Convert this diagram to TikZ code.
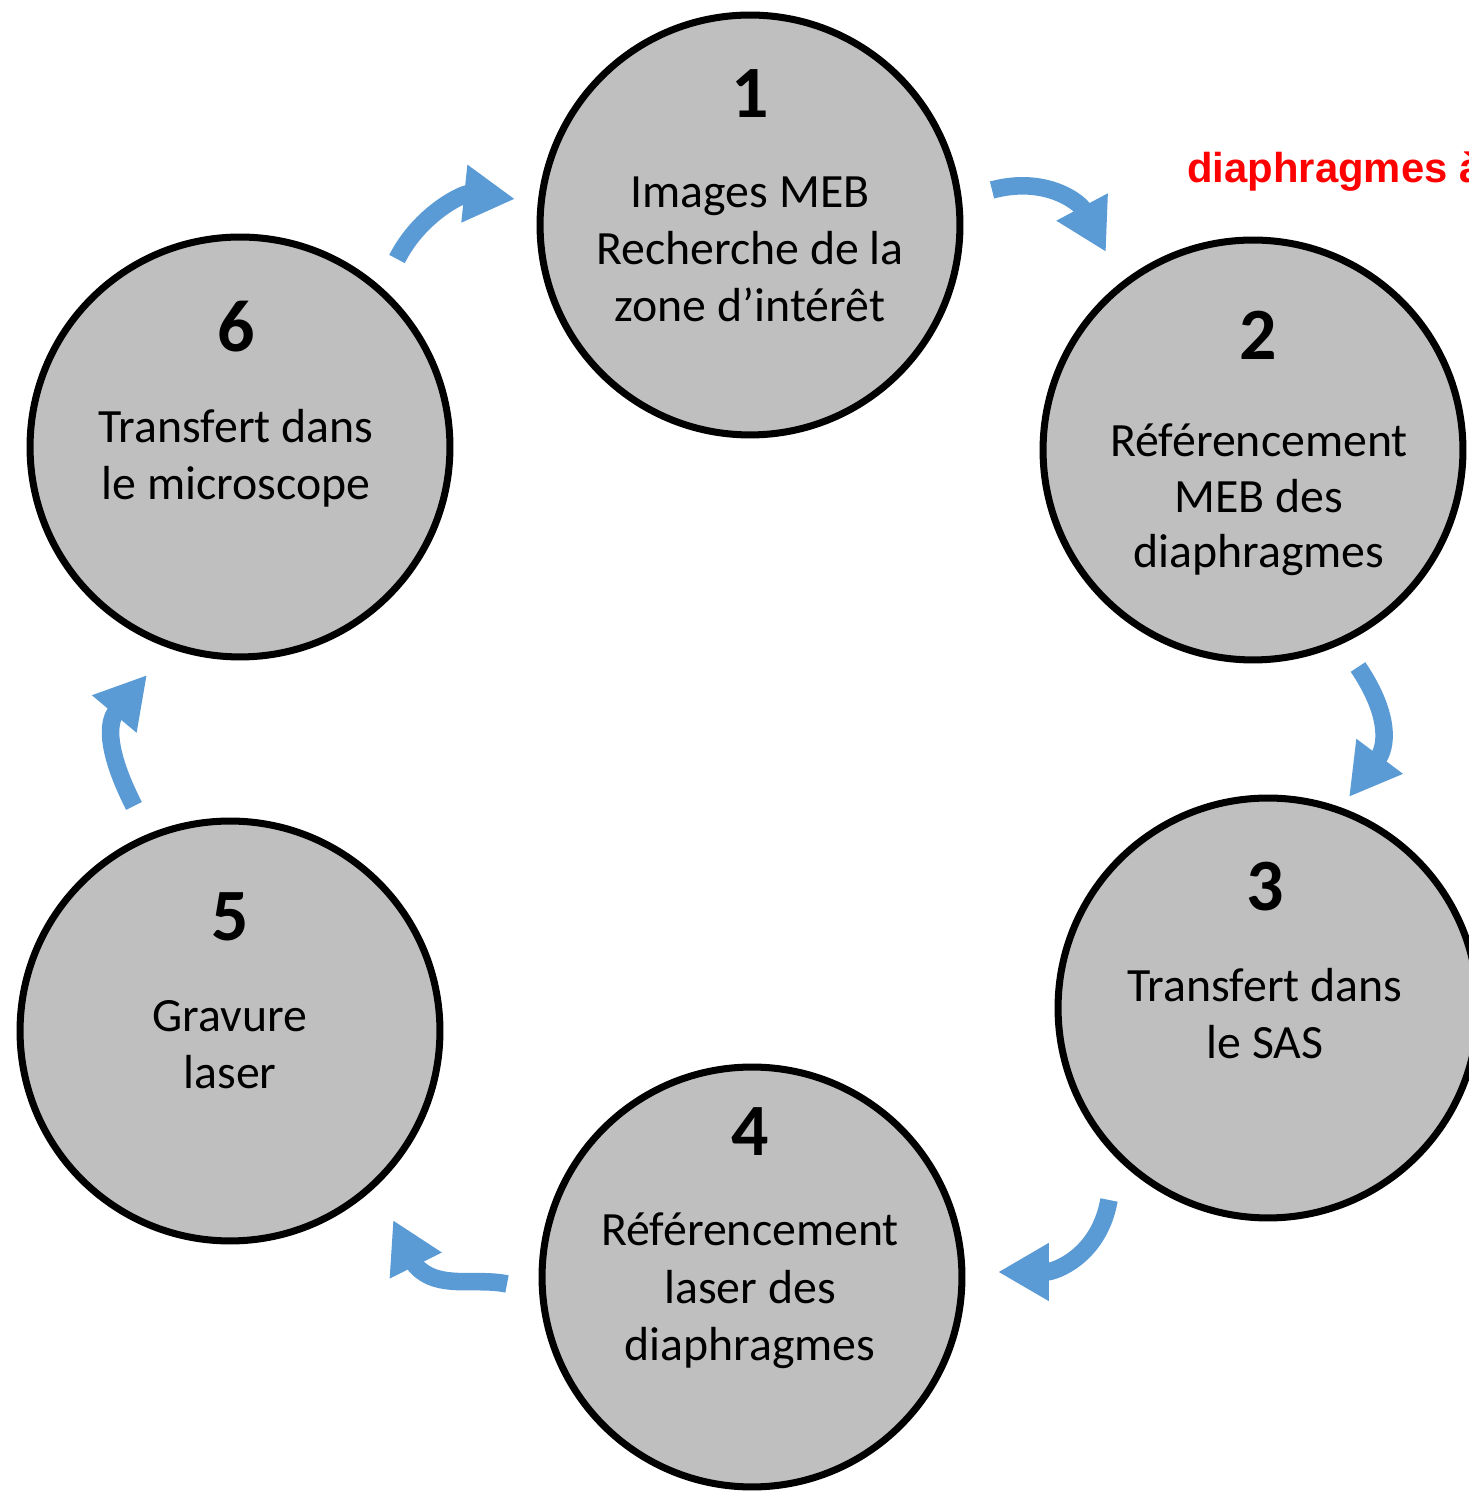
\documentclass[tikz,border=0pt]{standalone}
\usepackage{fontspec}
\setmainfont{Carlito}
\newfontfamily\arialfont{Liberation Sans}
\usetikzlibrary{arrows.meta}
\definecolor{stagegray}{HTML}{BFBFBF}
\definecolor{flowblue}{HTML}{5B9BD5}
\definecolor{notered}{HTML}{FF0000}
\begin{document}
\begin{tikzpicture}[x=0.02cm,y=0.02cm,
  stage/.style={circle, draw=black, line width=4pt, fill=stagegray, minimum size=8.4cm, inner sep=0pt},
  stagenum/.style={anchor=base, inner sep=0pt, font=\fontsize{42}{50}\selectfont\bfseries},
  stagetxt/.style={anchor=base, inner sep=0pt, font=\fontsize{27.2}{32}\selectfont},
  flow/.style={draw=flowblue, line width=10pt, line cap=butt, -{Triangle[length=29pt,width=31pt]}}
]
\useasboundingbox (0,0) rectangle (1469,1491);

% circles
\node[stage] (c1) at (750,1266) {};
\node[stage] (c2) at (1253,1041) {};
\node[stage] (c3) at (1268,483) {};
\node[stage] (c4) at (752,214) {};
\node[stage] (c5) at (230,460) {};
\node[stage] (c6) at (240,1044) {};

% texts circle 1
\node[stagenum] (n1) at (750,1373) {1};
\node[stagetxt] (t1a) at (750,1283) {Images MEB};
\node[stagetxt] (t1b) at (750,1226) {Recherche de la};
\node[stagetxt] (t1c) at (750,1169) {zone d’intérêt};
% circle 2
\node[stagenum] (n2) at (1258,1131) {2};
\node[stagetxt] (t2a) at (1259,1034) {Référencement};
\node[stagetxt] (t2b) at (1259,978) {MEB des};
\node[stagetxt] (t2c) at (1259,923) {diaphragmes};
% circle 3
\node[stagenum] (n3) at (1265,580) {3};
\node[stagetxt] (t3a) at (1265,489) {Transfert dans};
\node[stagetxt] (t3b) at (1265,432) {le SAS};
% circle 4
\node[stagenum] (n4) at (750,335) {4};
\node[stagetxt] (t4a) at (750,245) {Référencement};
\node[stagetxt] (t4b) at (750,187) {laser des};
\node[stagetxt] (t4c) at (750,130) {diaphragmes};
% circle 5
\node[stagenum] (n5) at (230,550) {5};
\node[stagetxt] (t5a) at (230,459) {Gravure};
\node[stagetxt] (t5b) at (230,402) {laser};
% circle 6
\node[stagenum] (n6) at (236,1139) {6};
\node[stagetxt] (t6a) at (236,1048) {Transfert dans};
\node[stagetxt] (t6b) at (236,991) {le microscope};

% red note (cut off at the right edge, as in the reference)
\node[anchor=base west, inner sep=0pt, text=notered, font=\arialfont\bfseries\fontsize{23.8}{28}\selectfont] (note) at (1187,1308) {diaphragmes à};

% arrow end points
\coordinate (a12s) at (992,1301);
\coordinate (a12e) at (1106,1239);
\coordinate (a23s) at (1358,824);
\coordinate (a23e) at (1349,694);
\coordinate (a34s) at (1109,291);
\coordinate (a34e) at (998,219);
\coordinate (a45s) at (507,207);
\coordinate (a45b) at (416,225);
\coordinate (a45e) at (393,271);
\coordinate (a56s) at (134,685);
\coordinate (a56e) at (147,816);
\coordinate (a61s) at (397,1232);
\coordinate (a61e) at (515,1292);

\draw[flow] (a12s) to[out=15,in=118,looseness=1.1] (a12e);
\draw[flow] (a23s) to[out=-56,in=53,looseness=1.2] (a23e);
\draw[flow] (a34s) to[out=-100,in=0,looseness=1.1] (a34e);
\draw[flow] (a45s) to[out=168,in=-48,looseness=0.9] (a45b) -- (a45e);
\draw[flow] (a56s) to[out=117,in=230,looseness=1.2] (a56e);
\draw[flow] (a61s) to[out=63,in=174] (a61e);
\end{tikzpicture}
\end{document}
